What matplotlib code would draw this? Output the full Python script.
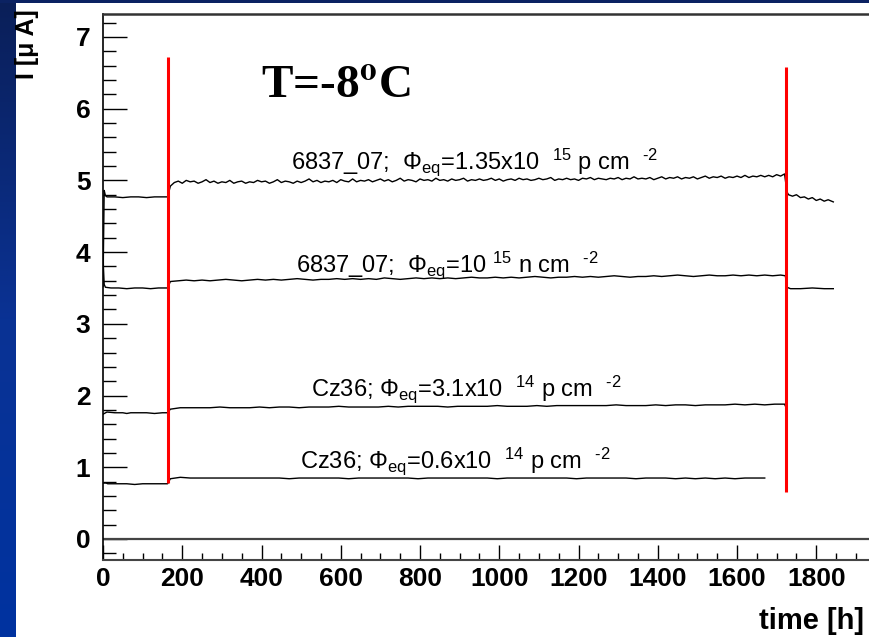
import numpy as np
import matplotlib
matplotlib.use("Agg")
import matplotlib.pyplot as plt
from matplotlib.ticker import MultipleLocator

plt.rcParams['mathtext.fontset'] = 'custom'
plt.rcParams['mathtext.rm'] = 'Liberation Sans'
plt.rcParams['mathtext.it'] = 'Liberation Sans:italic'
plt.rcParams['mathtext.bf'] = 'Liberation Sans:bold'

# current of the four diodes, sample times in hours, current in uA
t_a_pre = [0, 3, 6, 10, 30, 50, 70, 90, 110, 130, 150, 163]
i_a_pre = [3.52, 4.86, 4.79, 4.77, 4.77, 4.76, 4.77, 4.77, 4.76, 4.77, 4.77, 4.77]
i_a_mid = [4.92, 4.97, 4.99, 4.96, 5.00, 4.98, 4.99, 4.96, 4.98, 5.01,
           4.97, 4.99, 4.96, 4.98, 4.97, 5.00, 4.96, 4.98, 4.99, 4.96,
           4.98, 4.97, 5.00, 4.98, 4.99, 4.96, 4.98, 5.01, 4.97, 4.99,
           4.98, 4.96, 4.99, 4.97, 4.99, 5.02, 4.98, 5.00, 4.97, 4.99,
           4.98, 5.00, 4.97, 5.01, 4.99, 4.98, 5.02, 4.98, 5.00, 4.99,
           5.01, 4.98, 5.00, 5.02, 4.99, 5.01, 4.98, 5.00, 5.03, 4.99,
           5.01, 5.00, 4.98, 5.02, 5.00, 5.01, 4.99, 5.03, 5.00, 5.01,
           4.99, 5.02, 5.00, 5.01, 5.03, 4.99, 5.01, 5.00, 5.02, 5.00,
           5.01, 5.03, 5.00, 5.02, 4.99, 5.01, 5.02, 5.00, 5.03, 5.01,
           5.02, 5.00, 5.01, 5.03, 5.01, 5.02, 5.04, 5.00, 5.02, 5.01,
           5.03, 5.01, 5.02, 5.00, 5.03, 5.02, 5.04, 5.01, 5.03, 5.02,
           5.01, 5.03, 5.02, 5.04, 5.01, 5.03, 5.02, 5.05, 5.02, 5.03,
           5.02, 5.04, 5.01, 5.03, 5.05, 5.02, 5.04, 5.03, 5.05, 5.02,
           5.04, 5.03, 5.05, 5.02, 5.04, 5.06, 5.03, 5.05, 5.04, 5.06,
           5.03, 5.05, 5.04, 5.06, 5.04, 5.07, 5.04, 5.06, 5.05, 5.07,
           5.05, 5.07, 5.05, 5.08, 5.06, 5.09]
t_a_post = [1726, 1730, 1740, 1750, 1760, 1770, 1780, 1790, 1800, 1810, 1820, 1830, 1843]
i_a_post = [4.84, 4.80, 4.78, 4.80, 4.76, 4.77, 4.74, 4.76, 4.72, 4.74, 4.71, 4.73, 4.70]

t_b_pre = [0, 1, 3, 6, 20, 40, 60, 80, 100, 120, 140, 163]
i_b_pre = [4.35, 3.80, 3.55, 3.51, 3.50, 3.50, 3.49, 3.50, 3.50, 3.49, 3.50, 3.50]
i_b_mid = [3.59, 3.60, 3.61, 3.60, 3.61, 3.60, 3.61, 3.62, 3.61, 3.60,
           3.61, 3.62, 3.61, 3.62, 3.61, 3.62, 3.63, 3.62, 3.61, 3.62,
           3.62, 3.63, 3.62, 3.63, 3.62, 3.63, 3.62, 3.64, 3.63, 3.62,
           3.63, 3.64, 3.63, 3.64, 3.63, 3.64, 3.63, 3.64, 3.65, 3.64,
           3.64, 3.65, 3.64, 3.65, 3.64, 3.65, 3.66, 3.65, 3.64, 3.65,
           3.65, 3.66, 3.65, 3.66, 3.65, 3.66, 3.67, 3.66, 3.65, 3.66,
           3.66, 3.67, 3.66, 3.67, 3.68, 3.67, 3.66, 3.67, 3.68, 3.67,
           3.67, 3.68, 3.67, 3.68, 3.67, 3.68, 3.67, 3.68]
t_b_post = [1722, 1726, 1735, 1760, 1790, 1820, 1843]
i_b_post = [3.67, 3.51, 3.49, 3.49, 3.50, 3.49, 3.49]

t_c_pre = [0, 10, 30, 50, 60, 70, 90, 110, 130, 150, 163]
i_c_pre = [1.74, 1.77, 1.76, 1.76, 1.75, 1.76, 1.76, 1.76, 1.75, 1.76, 1.76]
i_c_mid = [1.81, 1.83, 1.83, 1.83, 1.83, 1.84, 1.83, 1.83, 1.83, 1.84,
           1.83, 1.84, 1.84, 1.83, 1.84, 1.84, 1.84, 1.85, 1.84, 1.84,
           1.84, 1.84, 1.85, 1.84, 1.85, 1.85, 1.85, 1.85, 1.84, 1.85,
           1.85, 1.85, 1.85, 1.86, 1.85, 1.85, 1.85, 1.86, 1.85, 1.86,
           1.86, 1.86, 1.86, 1.86, 1.86, 1.87, 1.86, 1.86, 1.86, 1.87,
           1.86, 1.87, 1.87, 1.86, 1.87, 1.87, 1.87, 1.88, 1.87, 1.88,
           1.87, 1.88, 1.88]
t_c_post = [1724]
i_c_post = [1.83]

t_d_pre = [0, 8, 12, 30, 60, 80, 100, 120, 140, 163]
i_d_pre = [0.78, 0.78, 0.77, 0.77, 0.77, 0.76, 0.77, 0.77, 0.77, 0.77]
i_d_mid = [0.84, 0.86, 0.85, 0.85, 0.85, 0.85, 0.85, 0.85, 0.85, 0.85,
           0.85, 0.85, 0.84, 0.85, 0.85, 0.85, 0.85, 0.85, 0.84, 0.85,
           0.85, 0.85, 0.85, 0.85, 0.85, 0.84, 0.85, 0.85, 0.85, 0.85,
           0.85, 0.85, 0.85, 0.84, 0.85, 0.85, 0.85, 0.85, 0.85, 0.85,
           0.85, 0.84, 0.85, 0.85, 0.85, 0.85, 0.85, 0.84, 0.85, 0.85,
           0.85, 0.84, 0.85, 0.84, 0.85, 0.84, 0.85, 0.84, 0.85, 0.85,
           0.85]
t_d_post = []
i_d_post = []

# sampling step (h) of the long run between the two temperature changes
mid_start = 170
mid_step = {'a': 10, 'b': 20, 'c': 25, 'd': 25}

HY = '\u2010'  # plain hyphen inside math, mathtext turns '-' into a minus
labels = [r"6837_07;  $\Phi_{\mathrm{eq}}$=1.35x10  $^{15}$ p cm  $^{" + HY + "2}$",
          r"6837_07;  $\Phi_{\mathrm{eq}}$=10 $^{15}$ n cm  $^{" + HY + "2}$",
          r"Cz36; $\Phi_{\mathrm{eq}}$=3.1x10  $^{14}$ p cm  $^{" + HY + "2}$",
          r"Cz36; $\Phi_{\mathrm{eq}}$=0.6x10  $^{14}$ p cm  $^{" + HY + "2}$"]
label_pos = [(475, 5.16), (487, 3.72), (526, 2.00), (496, 0.99)]

# temperature switch markers: time, bottom, top
markers = [(164, 0.78, 6.72), (1724, 0.66, 6.58)]


def series(key, t_pre, i_pre, i_mid, t_post, i_post):
    t_mid = mid_start + mid_step[key] * np.arange(len(i_mid))
    t = np.concatenate([t_pre, t_mid, t_post])
    i = np.concatenate([i_pre, i_mid, i_post])
    return t, i


fig = plt.figure(figsize=(8.7, 6.37), dpi=100)
fig.patch.set_facecolor('white')

# blue slide border
strip = fig.add_axes([0, 0, 16 / 870, 1])
grad = np.linspace(0, 1, 256).reshape(-1, 1)
cmap = matplotlib.colors.LinearSegmentedColormap.from_list('bl', ['#0a1f58', '#0a3294', '#0033a0'])
strip.imshow(grad, aspect='auto', cmap=cmap, extent=[0, 1, 0, 1], origin='upper')
strip.axis('off')
fig.add_artist(plt.Rectangle((0, 1 - 3 / 637), 1, 3 / 637, transform=fig.transFigure,
                             color='#0b2262', lw=0))

ax = fig.add_axes([103 / 870, 77 / 637, 1 - 103 / 870 + 0.002, (560 - 14) / 637])
ax.set_xlim(0, 1940)
ax.set_ylim(-0.293, 7.32)

for key, data in zip('abcd', [(t_a_pre, i_a_pre, i_a_mid, t_a_post, i_a_post),
                             (t_b_pre, i_b_pre, i_b_mid, t_b_post, i_b_post),
                             (t_c_pre, i_c_pre, i_c_mid, t_c_post, i_c_post),
                             (t_d_pre, i_d_pre, i_d_mid, t_d_post, i_d_post)]):
    t, i = series(key, *data)
    ax.plot(t, i, color='black', lw=1.0)

for t, lo, hi in markers:
    ax.plot([t, t], [lo, hi], color='#ff0000', lw=2.2, solid_capstyle='butt')

ax.axhline(0, color='#444444', lw=1.6)

for txt, (x, y) in zip(labels, label_pos):
    ax.text(x, y, txt, fontsize=17, family='Liberation Sans', ha='left', va='baseline')

ax.text(399, 6.14, r"T=-8$^{\mathbf{o}}$C", fontsize=34, family='Liberation Serif',
        weight='bold', math_fontfamily='stix', ha='left', va='baseline')

ax.xaxis.set_major_locator(MultipleLocator(200))
ax.xaxis.set_minor_locator(MultipleLocator(50))
ax.yaxis.set_major_locator(MultipleLocator(1))
ax.yaxis.set_minor_locator(MultipleLocator(0.2))
ax.tick_params(axis='y', which='major', direction='in', length=17, width=1, pad=9)
ax.tick_params(axis='y', which='minor', direction='in', length=9, width=1)
ax.tick_params(axis='x', which='major', direction='in', length=11, width=1, pad=5)
ax.tick_params(axis='x', which='minor', direction='in', length=5, width=1)
ax.tick_params(top=False, right=False, which='both')
for lab in ax.get_xticklabels() + ax.get_yticklabels():
    lab.set_fontfamily('Liberation Sans')
    lab.set_fontweight('bold')
    lab.set_fontsize(19)

ax.spines['right'].set_visible(False)
ax.spines['top'].set_color('#333333')
ax.spines['top'].set_linewidth(1.8)
ax.spines['bottom'].set_color('#444444')
ax.spines['bottom'].set_linewidth(1.5)
ax.spines['left'].set_color('black')
ax.spines['left'].set_linewidth(1.2)

fig.text(27 / 870, 1 - 9 / 637, "I [\u03bc A]", rotation=90, ha='center', va='top',
         fontsize=18, weight='bold', family='Liberation Sans')
fig.text(864 / 870, 8 / 637, "time [h]", ha='right', va='baseline',
         fontsize=21, weight='bold', family='Liberation Sans')

fig.savefig('out.png', dpi=100)
